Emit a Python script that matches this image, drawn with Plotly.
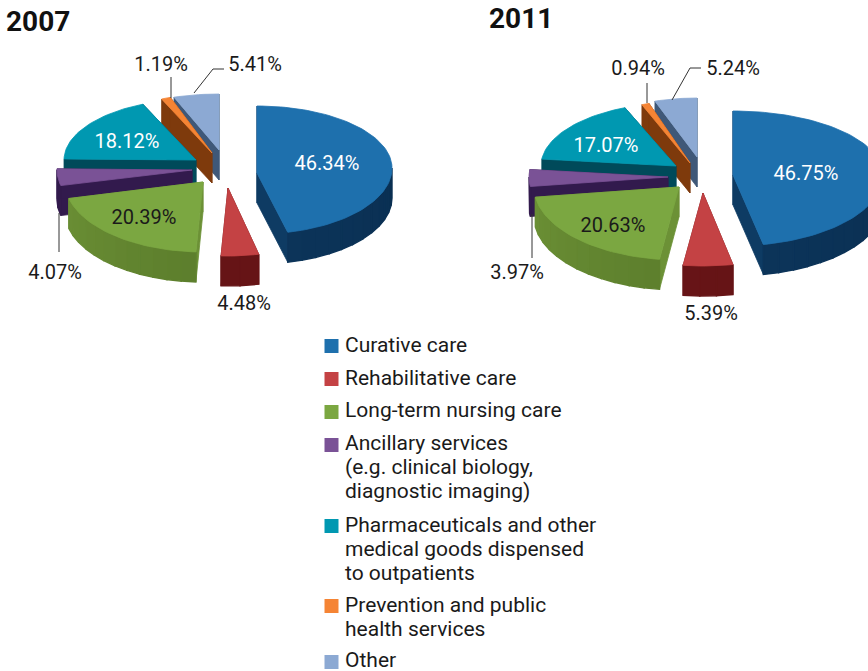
import math
import plotly.graph_objects as go

# ---- data ----
categories = ["Curative care", "Rehabilitative care", "Long-term nursing care",
              "Ancillary services\n(e.g. clinical biology,\ndiagnostic imaging)",
              "Pharmaceuticals and other\nmedical goods dispensed\nto outpatients",
              "Prevention and public\nhealth services", "Other"]
values_2007 = [46.34, 4.48, 20.39, 4.07, 18.12, 1.19, 5.41]
values_2011 = [46.75, 5.39, 20.63, 3.97, 17.07, 0.94, 5.24]
titles = ["2007", "2011"]

# ---- styles and layout ----
top_colors = ["#1E70AD", "#C44244", "#7BA741", "#7A5296", "#0098B1", "#F58434", "#8CA9D3"]
side_left = ["#0E3B63", "#6F181B", "#6C9136", "#321A4D", "#004A5A", "#7E3A0C", "#3F5878"]
side_right = ["#0A2F52", "#5E1012", "#4C6A22", "#2C1644", "#004A5A", "#8A4410", "#3F5878"]
label_colors = ["white", "#1a1a1a", "#1a1a1a", "#1a1a1a", "white", "#1a1a1a", "#1a1a1a"]
DEPTH = 30
# apex x, apex y, radius x, front radius y, back radius y, arc centre shift in y
geometry_2007 = [(257, 173, 135, 66, 62, -5), (228, 188, 135, 68, 68, 0), (203, 182, 138, 70, 70, 0),
                 (192, 170, 135, 66, 66, 0), (196, 160, 132, 61, 61, 0), (212, 153, 125, 59, 59, 0),
                 (219, 150, 135, 56, 56, 0)]
geometry_2011 = [(733, 175, 150, 71, 64, 0), (703, 193, 148, 73, 73, 0), (679, 187, 145, 73, 73, 0),
                 (668, 177, 139, 68, 68, 0), (676, 166, 135, 63, 63, 0), (690, 163, 127, 63, 63, 0),
                 (697, 157, 130, 59, 59, 0)]
label_xy_2007 = [(327, 165), (244, 305), (144, 219), (55, 274), (127, 143), (161, 66), (255, 66)]
label_xy_2011 = [(806, 175), (711, 315), (613, 227), (517, 274), (606, 147), (638, 70), (733, 70)]
leaders = [([171, 171], [98, 77]), ([194, 213, 224], [93, 69, 69]), ([59, 59], [213, 252]),
           ([647, 647], [103, 83]), ([672, 690, 701], [100, 68, 68]), ([532, 532], [214, 258])]
title_xy = [(6, 24), (489, 21)]
legend_square_y = [346, 379, 412, 445, 526, 606, 662]
legend_line_y = [[347], [380], [412], [445, 469, 493], [527, 551, 575], [607, 631], [662]]
NAME = "Roboto"

fig = go.Figure()


def mix(a, b, f):
    ca = [int(a[i:i + 2], 16) for i in (1, 3, 5)]
    cb = [int(b[i:i + 2], 16) for i in (1, 3, 5)]
    return "rgb(%d,%d,%d)" % tuple(round(p + (q - p) * f) for p, q in zip(ca, cb))


def poly(xs, ys, color, width=0.8):
    fig.add_trace(go.Scatter(x=xs, y=ys, mode="lines", fill="toself", fillcolor=color,
                             line=dict(color=color, width=width), hoverinfo="skip", showlegend=False))


def arc(g, t0, t1, steps):
    cx, cy, rx, ryf, ryb, dy = g
    ts = [t0 + (t1 - t0) * i / steps for i in range(steps + 1)]
    xs, ys = [], []
    for t in ts:
        c = math.cos(math.radians(t))
        xs.append(cx + rx * math.sin(math.radians(t)))
        ys.append(cy + dy - (ryb if c > 0 else ryf) * c)
    return xs, ys


def draw_slice(i, g, t0, t1):
    cx, cy = g[0], g[1]
    ax, ay = arc(g, t0, t1, max(2, int((t1 - t0) / 2)))
    # flat cut faces
    for ex, ey in ((ax[0], ay[0]), (ax[-1], ay[-1])):
        poly([cx, ex, ex, cx, cx], [cy, ey, ey + DEPTH, cy + DEPTH, cy], side_left[i])
    # curved outer wall, in narrow bands for the shading
    a, b = max(t0, 90), min(t1, 270)
    if b > a:
        n = max(1, int((b - a) / 6))
        for k in range(n):
            s0 = a + (b - a) * k / n
            s1 = a + (b - a) * (k + 1) / n
            xs, ys = arc(g, s0, s1, 3)
            f = (270 - (s0 + s1) / 2) / 180
            poly(xs + xs[::-1] + [xs[0]], ys + [y + DEPTH for y in ys[::-1]] + [ys[0]],
                 mix(side_left[i], side_right[i], f), width=1.4)
    poly([cx] + ax + [cx], [cy] + ay + [cy], top_colors[i])


for values, geometry, label_xy in ((values_2007, geometry_2007, label_xy_2007),
                                   (values_2011, geometry_2011, label_xy_2011)):
    total = sum(values)
    starts, t = [], 0.0
    for v in values:
        starts.append(t)
        t += 360 * v / total
    # back slices first, so that the nearer ones overlap them
    for i in (6, 5, 4, 3, 2, 1, 0):
        draw_slice(i, geometry[i], starts[i], starts[i] + 360 * values[i] / total)
    fig.add_trace(go.Scatter(x=[p[0] for p in label_xy], y=[p[1] for p in label_xy], mode="text",
                             text=["%.2f%%" % v for v in values], textposition="middle center",
                             textfont=dict(family=NAME, size=20, color=label_colors),
                             hoverinfo="skip", showlegend=False))

for lx, ly in leaders:
    fig.add_trace(go.Scatter(x=lx, y=ly, mode="lines", line=dict(color="#333333", width=1),
                             hoverinfo="skip", showlegend=False))

fig.add_trace(go.Scatter(x=[p[0] for p in title_xy], y=[p[1] for p in title_xy], mode="text",
                         text=titles, textposition="middle right",
                         textfont=dict(family=NAME, size=28, color="#111111", weight="bold"),
                         hoverinfo="skip", showlegend=False))

# legend
fig.add_trace(go.Scatter(x=[331.5] * len(categories), y=legend_square_y, mode="markers",
                         marker=dict(symbol="square", size=14, color=top_colors, line=dict(width=0)),
                         hoverinfo="skip", showlegend=False))
line_txt, line_y = [], []
for name, ys in zip(categories, legend_line_y):
    for part, y in zip(name.split("\n"), ys):
        line_txt.append(part)
        line_y.append(y)
fig.add_trace(go.Scatter(x=[345] * len(line_txt), y=line_y, mode="text", text=line_txt,
                         textposition="middle right",
                         textfont=dict(family=NAME, size=21, color="#1a1a1a"),
                         hoverinfo="skip", showlegend=False))

fig.update_layout(width=868, height=671, margin=dict(l=0, r=0, t=0, b=0),
                  paper_bgcolor="white", plot_bgcolor="white", showlegend=False,
                  xaxis=dict(range=[0, 868], visible=False, fixedrange=True),
                  yaxis=dict(range=[671, 0], visible=False, fixedrange=True))
fig.write_html("out.html", config=dict(displayModeBar=False),
               post_script="document.body.style.margin='0';")
